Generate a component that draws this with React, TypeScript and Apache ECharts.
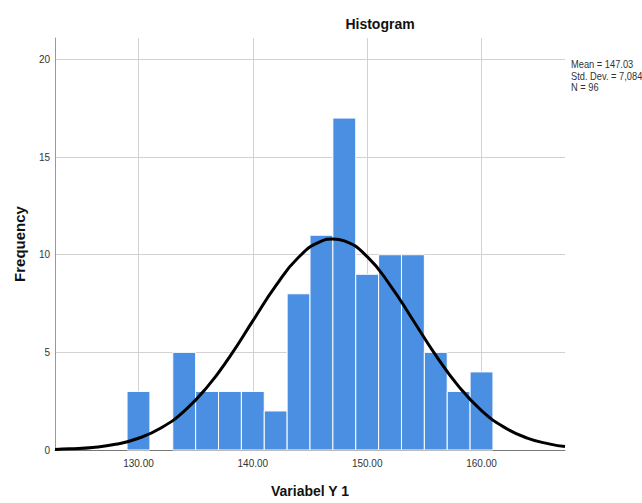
import React, { useEffect, useRef } from "react";
import * as echarts from "echarts";

// Histogram bins (lower edge) and frequencies, bin width 2
const binStarts = [129, 131, 133, 135, 137, 139, 141, 143, 145, 147, 149, 151, 153, 155, 157, 159];
const counts = [3, 0, 5, 3, 3, 3, 2, 8, 11, 17, 9, 10, 10, 5, 3, 4];
const binWidth = 2;

// Normal curve
const curveX = [122.7, 124, 126, 128, 130, 132, 134, 136, 138, 140, 142, 144, 146, 147, 148, 150, 152, 154, 156, 158, 160, 162, 164, 166, 167.3];
const curveY = [0.03, 0.06, 0.13, 0.29, 0.6, 1.14, 1.99, 3.22, 4.8, 6.61, 8.4, 9.87, 10.7, 10.81, 10.71, 9.9, 8.45, 6.66, 4.85, 3.26, 2.02, 1.16, 0.61, 0.3, 0.18];

const statLines = ["Mean = 147.03", "Std. Dev. = 7,084", "N = 96"];
const titleText = "Histogram";
const xName = "Variabel Y 1";
const yName = "Frequency";

const FONT = "'Liberation Sans', Arial, sans-serif";

export default function App() {
  const ref = useRef<HTMLDivElement>(null);
  useEffect(() => {
    document.body.style.margin = "0";
    if (!ref.current) return;
    const chart = echarts.init(ref.current, null, { renderer: "svg" });
    const barData = binStarts
      .map((s, i) => [s, s + binWidth, counts[i]])
      .filter((d) => d[2] > 0);
    chart.setOption({
      animation: false,
      backgroundColor: "#ffffff",
      textStyle: { fontFamily: FONT },
      title: {
        text: titleText,
        left: 375,
        textAlign: "center",
        top: 12,
        textStyle: { fontFamily: FONT, fontSize: 14, fontWeight: "bold", color: "#111" },
      },
      grid: { left: 55, right: 77, top: 38, bottom: 49 },
      xAxis: {
        type: "value",
        min: 122.7,
        max: 167.3,
        minInterval: 10,
        maxInterval: 10,
        name: xName,
        nameLocation: "middle",
        nameGap: 34,
        nameTextStyle: { fontFamily: FONT, fontSize: 14, fontWeight: "bold", color: "#111" },
        axisLine: { show: true, onZero: false, lineStyle: { color: "#777", width: 1 } },
        axisTick: { show: false },
        axisLabel: {
          showMinLabel: false,
          showMaxLabel: false,
          margin: 8,
          fontFamily: FONT,
          fontSize: 10,
          color: "#333",
          formatter: (v: number) => v.toFixed(2),
        },
        splitLine: {
          show: true,
          showMinLine: false,
          showMaxLine: false,
          lineStyle: { color: "#d2d2d2", width: 1 },
        },
      },
      yAxis: {
        type: "value",
        min: 0,
        max: 21.1,
        interval: 5,
        name: yName,
        nameLocation: "middle",
        nameGap: 28,
        nameTextStyle: { fontFamily: FONT, fontSize: 15, fontWeight: "bold", color: "#111" },
        axisLine: { show: true, lineStyle: { color: "#999", width: 1 } },
        axisTick: { show: false },
        axisLabel: {
          showMaxLabel: false,
          margin: 5,
          fontFamily: FONT,
          fontSize: 10,
          color: "#333",
        },
        splitLine: {
          show: true,
          showMinLine: false,
          showMaxLine: false,
          lineStyle: { color: "#d2d2d2", width: 1 },
        },
      },
      graphic: [
        {
          type: "text",
          x: 571,
          y: 59,
          scaleX: 0.93,
          scaleY: 1.12,
          style: {
            text: statLines.join("\n"),
            fontFamily: FONT,
            fontSize: 10,
            lineHeight: 10,
            fill: "#333",
          },
        },
      ],
      series: [
        {
          type: "custom",
          z: 2,
          renderItem: (params: any, api: any) => {
            const x0 = api.value(0);
            const x1 = api.value(1);
            const y = api.value(2);
            const p0 = api.coord([x0, y]);
            const p1 = api.coord([x1, 0]);
            return {
              type: "rect",
              shape: { x: p0[0], y: p0[1], width: p1[0] - p0[0], height: p1[1] - p0[1] },
              style: { fill: "#4a8fe2", stroke: "#ffffff", lineWidth: 1 },
            };
          },
          encode: { x: [0, 1], y: 2 },
          data: barData,
        },
        {
          type: "line",
          z: 3,
          smooth: true,
          showSymbol: false,
          symbol: "none",
          lineStyle: { color: "#000", width: 3 },
          data: curveX.map((x, i) => [x, curveY[i]]),
        },
      ],
    });
    return () => chart.dispose();
  }, []);
  return <div ref={ref} style={{ width: 642, height: 503 }} />;
}
